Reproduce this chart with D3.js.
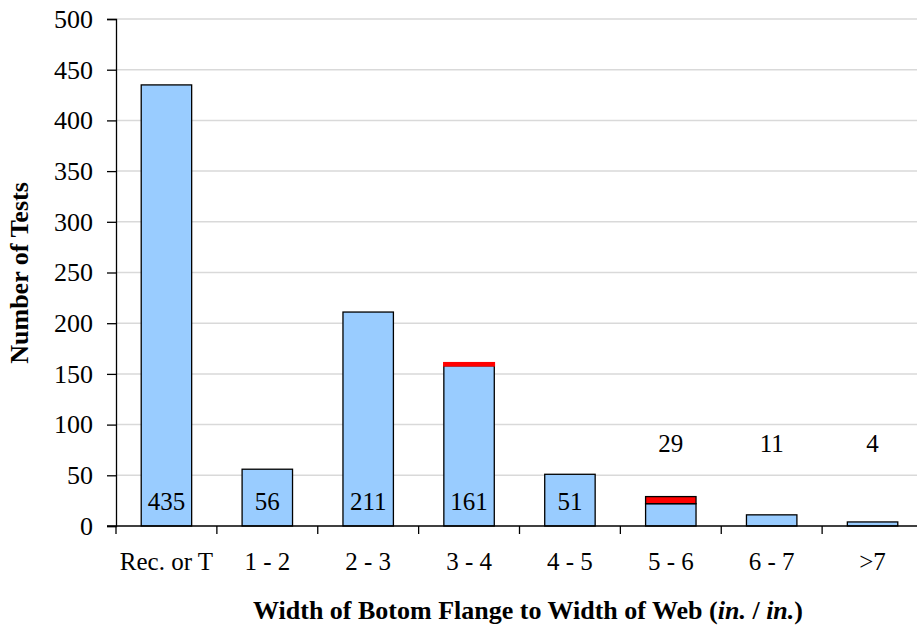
<!DOCTYPE html>
<html>
<head>
<meta charset="utf-8">
<script src="https://cdn.jsdelivr.net/npm/d3@7"></script>
<style>
  html, body { margin: 0; padding: 0; background: #fff; }
  svg, svg text, svg tspan { font-family: "Liberation Serif" !important; }
</style>
</head>
<body>
<svg id="chart" width="917" height="629"></svg>
<script>
// Width-ratio bins and test counts
const categories = ["Rec. or T", "1 - 2", "2 - 3", "3 - 4", "4 - 5", "5 - 6", "6 - 7", ">7"];
const baseCounts = [435, 56, 211, 158, 51, 22, 11, 4];   // blue part
const flagged    = [0, 0, 0, 3, 0, 7, 0, 0];             // red cap stacked on top
const totals     = [435, 56, 211, 161, 51, 29, 11, 4];   // labelled totals
const yTicks     = [0, 50, 100, 150, 200, 250, 300, 350, 400, 450, 500];

const FONT = "Liberation Serif";
const svg = d3.select("#chart");
const margin = { left: 116, top: 19, bottom: 103 };
const plotW = 807;
const plotH = 629 - margin.top - margin.bottom;

const x = d3.scaleBand().domain(categories).range([margin.left, margin.left + plotW]).paddingInner(0.5).paddingOuter(0.25);
const y = d3.scaleLinear().domain([0, 500]).range([margin.top + plotH, margin.top]);

// gridlines
svg.append("g").selectAll("line").data(yTicks.filter(d => d > 0)).join("line")
  .attr("x1", margin.left).attr("x2", 917)
  .attr("y1", d => y(d)).attr("y2", d => y(d))
  .attr("stroke", "#d9d9d9").attr("stroke-width", 1.5);

// blue bars
svg.append("g").selectAll("rect").data(categories).join("rect")
  .attr("x", d => x(d)).attr("width", x.bandwidth())
  .attr("y", (d, i) => y(baseCounts[i]))
  .attr("height", (d, i) => y(0) - y(baseCounts[i]))
  .attr("fill", "#99ccff").attr("stroke", "#000").attr("stroke-width", 1.3);

// red caps
const capped = categories.map((c, i) => ({ c, i })).filter(d => flagged[d.i] > 0);
svg.append("g").selectAll("rect").data(capped).join("rect")
  .attr("x", d => x(d.c)).attr("width", x.bandwidth())
  .attr("y", d => y(baseCounts[d.i] + flagged[d.i]))
  .attr("height", d => y(baseCounts[d.i]) - y(baseCounts[d.i] + flagged[d.i]))
  .attr("fill", "#ff0000")
  .attr("stroke", d => flagged[d.i] > 4 ? "#000" : "#ff0000")
  .attr("stroke-width", d => flagged[d.i] > 4 ? 1.3 : 1.6);

// y axis
const yAxis = svg.append("g").attr("transform", `translate(${margin.left},0)`)
  .call(d3.axisLeft(y).tickValues(yTicks).tickSize(9).tickPadding(14));
yAxis.attr("font-family", null).attr("font-size", null);
yAxis.select(".domain").attr("stroke", "#000").attr("stroke-width", 1.3);
yAxis.selectAll(".tick line").attr("stroke", "#000").attr("stroke-width", 1.3);
yAxis.selectAll("text").attr("fill", "#000")
  .style("font-family", FONT).style("font-size", "26px");

// x axis with ticks at band boundaries
const xAxisG = svg.append("g").attr("transform", `translate(0,${y(0)})`);
xAxisG.append("line").attr("x1", margin.left - 9).attr("x2", 917)
  .attr("stroke", "#000").attr("stroke-width", 1.3);
const step = x.step();
xAxisG.selectAll("line.tk").data(d3.range(categories.length)).join("line").attr("class", "tk")
  .attr("x1", i => x(categories[i]) - step * 0.25).attr("x2", i => x(categories[i]) - step * 0.25)
  .attr("y1", 0).attr("y2", 8).attr("stroke", "#000").attr("stroke-width", 1.3);
xAxisG.selectAll("text").data(categories).join("text")
  .attr("x", d => x(d) + x.bandwidth() / 2).attr("y", 38)
  .attr("text-anchor", "middle").attr("dominant-baseline", "middle")
  .style("font-family", FONT).style("font-size", "25px").text(d => d);

// value labels
svg.append("g").selectAll("text").data(categories).join("text")
  .attr("x", d => x(d) + x.bandwidth() / 2)
  .attr("y", (d, i) => i < 5 ? y(0) - 22 : y(79))
  .attr("text-anchor", "middle").attr("dominant-baseline", "middle")
  .style("font-family", FONT).style("font-size", "25px")
  .text((d, i) => totals[i]);

// axis titles
svg.append("text").attr("x", 528).attr("y", 613)
  .attr("text-anchor", "middle").attr("dominant-baseline", "middle")
  .style("font-family", FONT).style("font-size", "26px").style("font-weight", "bold")
  .html('Width of Botom Flange to Width of Web (<tspan font-style="italic">in.</tspan> / <tspan font-style="italic">in.</tspan>)');

svg.append("text")
  .attr("transform", "translate(22,273) rotate(-90)")
  .attr("text-anchor", "middle").attr("dominant-baseline", "middle")
  .style("font-family", FONT).style("font-size", "26px").style("font-weight", "bold")
  .text("Number of Tests");
</script>
</body>
</html>
